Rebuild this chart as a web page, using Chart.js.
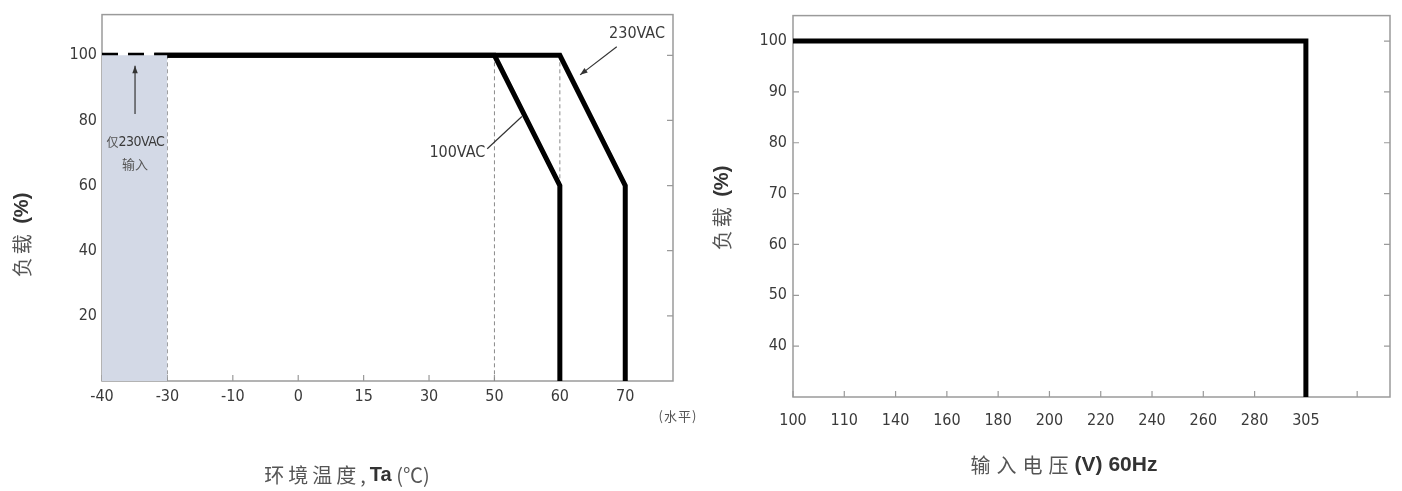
<!DOCTYPE html>
<html>
<head>
<meta charset="utf-8">
<script src="https://cdn.jsdelivr.net/npm/chart.js@4.4.1/dist/chart.umd.min.js"></script>
<style>
    html, body { margin: 0; padding: 0; background: #fff; }
    #wrap { position: relative; width: 1402px; height: 491px; overflow: hidden; }
    .box { position: absolute; top: 0; height: 491px; }
</style>
</head>
<body>
<div id="wrap">
    <div class="box" style="left:0;width:712px"><canvas id="tempChart"></canvas></div>
    <div class="box" style="left:700px;width:702px"><canvas id="voltChart"></canvas></div>
</div>
<script>
// left chart: derating vs ambient temperature
const tempTicks = [-40, -30, -10, 0, 15, 30, 50, 60, 70];
const loadTicksLeft = [20, 40, 60, 80, 100];
const coldStartTemp = [-40, -32];
const coldStartLoad = [100, 100];
const curve100Temp = [-32, 50, 60, 60];
const curve100Load = [100, 100, 60, 0];
const curve230Temp = [-32, 60, 70, 70];
const curve230Load = [100, 100, 60, 0];
const shadeTemp = [-40, -30];
const shadeLoad = [100, 100];
const refLineTemps = [-30, 50, 60];

// right chart: load vs input voltage
const voltTicks = [100, 110, 140, 160, 180, 200, 220, 240, 260, 280, 305, ''];
const loadTicksRight = [40, 50, 60, 70, 80, 90, 100];
const voltCurveV = [100, 305, 305];
const voltCurveLoad = [100, 100, 30];

const NUM = '"Liberation Sans Narrow", "DejaVu Sans Condensed", Arial, sans-serif';
const CJK = '"Noto Sans CJK SC", sans-serif';

// axes are not linear: each tick is spaced evenly, so map values onto tick index
function toPos(v, ticks) {
    for (let i = 0; i < ticks.length - 1; i++) {
        const a = ticks[i], b = ticks[i + 1];
        if (typeof b !== 'number') break;
        if (v >= a && v <= b) return i + (v - a) / (b - a);
    }
    return ticks.indexOf(v);
}

function pts(xs, ys, ticks) {
    return xs.map((x, i) => ({ x: toPos(x, ticks), y: ys[i] }));
}

function drawMixed(ctx, parts, cx, cy, rotate) {
    ctx.save();
    ctx.translate(cx, cy);
    if (rotate) ctx.rotate(-Math.PI / 2);
    let total = 0;
    const widths = parts.map(p => {
        ctx.font = p.font;
        ctx.letterSpacing = (p.spacing || 0) + 'px';
        const w = ctx.measureText(p.text).width;
        total += w;
        return w;
    });
    let x = -total / 2;
    ctx.textBaseline = 'middle';
    ctx.textAlign = 'left';
    parts.forEach((p, i) => {
        ctx.font = p.font;
        ctx.letterSpacing = (p.spacing || 0) + 'px';
        ctx.fillStyle = p.color || '#333';
        ctx.fillText(p.text, x, 0);
        x += widths[i];
    });
    ctx.restore();
}

// frame, inside tick marks and axis titles
function makeFrame(titles, extra) {
    return {
        id: 'frame',
        beforeDatasetsDraw(chart) {
            const { ctx, chartArea: a, scales } = chart;
            ctx.save();
            ctx.strokeStyle = '#9a9a9a';
            ctx.lineWidth = 1.5;
            ctx.strokeRect(a.left, a.top, a.right - a.left, a.bottom - a.top);
            ctx.lineWidth = 1.2;
            ctx.beginPath();
            scales.y.ticks.forEach(t => {
                const y = scales.y.getPixelForValue(t.value);
                ctx.moveTo(a.left, y); ctx.lineTo(a.left + 6, y);
                ctx.moveTo(a.right, y); ctx.lineTo(a.right - 6, y);
            });
            scales.x.ticks.forEach(t => {
                const x = scales.x.getPixelForValue(t.value);
                ctx.moveTo(x, a.bottom); ctx.lineTo(x, a.bottom - 6);
            });
            ctx.stroke();
            ctx.restore();
            if (extra && extra.before) extra.before(chart);
        },
        afterDraw(chart) {
            titles.forEach(t => drawMixed(chart.ctx, t.parts, t.x, t.y, t.rotate));
            if (extra && extra.after) extra.after(chart);
        }
    };
}

function refLines(chart) {
    const { ctx, scales } = chart;
    const X = v => scales.x.getPixelForValue(v);
    const Y = v => scales.y.getPixelForValue(v);
    ctx.save();
    ctx.strokeStyle = '#8a8a8a';
    ctx.lineWidth = 1;
    ctx.setLineDash([4, 3]);
    ctx.beginPath();
    refLineTemps.forEach(t => {
        const x = X(toPos(t, tempTicks));
        ctx.moveTo(x, Y(100)); ctx.lineTo(x, Y(0));
    });
    ctx.stroke();
    ctx.restore();
}

function tempNotes(chart) {
    const { ctx, scales } = chart;
    const X = v => scales.x.getPixelForValue(v);
    const Y = v => scales.y.getPixelForValue(v);
    ctx.save();
    ctx.strokeStyle = '#333';
    ctx.fillStyle = '#333';
    ctx.lineWidth = 1.2;
    const arrow = (x1, y1, x2, y2) => {
        ctx.beginPath(); ctx.moveTo(x1, y1); ctx.lineTo(x2, y2); ctx.stroke();
        const ang = Math.atan2(y2 - y1, x2 - x1);
        ctx.beginPath();
        ctx.moveTo(x2, y2);
        ctx.lineTo(x2 - 8 * Math.cos(ang - 0.35), y2 - 8 * Math.sin(ang - 0.35));
        ctx.lineTo(x2 - 8 * Math.cos(ang + 0.35), y2 - 8 * Math.sin(ang + 0.35));
        ctx.closePath(); ctx.fill();
    };
    arrow(X(0.505), Y(82), X(0.505), Y(96.8));
    ctx.beginPath(); ctx.moveTo(X(5.89), Y(71.3)); ctx.lineTo(X(6.42), Y(81.2)); ctx.stroke();
    arrow(X(7.87), Y(102.6), X(7.31), Y(94));

    drawMixed(ctx, [{ text: '仅', font: '12px ' + CJK, color: '#555' },
                    { text: '230VAC', font: '14px ' + NUM, color: '#3a3a3a', spacing: -0.5 }],
              X(0.51), Y(73.2));
    drawMixed(ctx, [{ text: '输入', font: '13px ' + CJK, color: '#555' }], X(0.505), Y(66.5));
    ctx.fillStyle = '#3a3a3a';
    ctx.textBaseline = 'middle';
    ctx.font = '16px ' + NUM;
    ctx.textAlign = 'right';
    ctx.fillText('100VAC', X(5.86), Y(70.2));
    ctx.textAlign = 'center';
    ctx.fillText('230VAC', X(8.18), Y(106.6));
    drawMixed(ctx, [{ text: '(水平)', font: '13px ' + CJK, color: '#555', spacing: 1 }], 678, 416);
    ctx.restore();
}

function lineSet(data, dash) {
    return {
        data,
        borderColor: '#000',
        borderWidth: 5,
        borderDash: dash || [],
        pointRadius: 0,
        tension: 0,
        fill: false,
        borderCapStyle: 'butt',
        borderJoinStyle: 'miter'
    };
}

function axisX(max, ticks, height, pad) {
    return {
        type: 'linear', min: 0, max,
        grid: { display: false, drawTicks: false },
        border: { display: false },
        afterBuildTicks: s => { s.ticks = ticks.map((t, i) => ({ value: i })); },
        afterFit: s => { s.height = height; },
        ticks: {
            autoSkip: false, maxRotation: 0, padding: pad,
            color: '#3a3a3a', font: { family: NUM, size: 16 },
            callback: v => ticks[v]
        }
    };
}

function axisY(min, max, ticks, width, pad) {
    return {
        type: 'linear', min, max,
        grid: { display: false, drawTicks: false },
        border: { display: false },
        afterBuildTicks: s => { s.ticks = ticks.map(v => ({ value: v })); },
        afterFit: s => { s.width = width; },
        ticks: {
            padding: pad,
            color: '#3a3a3a', font: { family: NUM, size: 16 }
        }
    };
}

function baseOptions(pad, x, y) {
    return {
        responsive: true,
        maintainAspectRatio: false,
        animation: false,
        layout: { padding: pad },
        scales: { x, y },
        plugins: { legend: { display: false }, tooltip: { enabled: false } }
    };
}

function initTempChart() {
    const ctx = document.getElementById('tempChart').getContext('2d');
    const titles = [
        { rotate: true, x: 22, y: 235, parts: [
            { text: '负载 ', font: '20px ' + CJK, color: '#555', spacing: 3 },
            { text: '(%)', font: 'bold 20px "Liberation Sans", Arial', color: '#333' }] },
        { x: 347, y: 475, parts: [
            { text: '环境温度,', font: '20px ' + CJK, color: '#555', spacing: 4 },
            { text: 'Ta', font: 'bold 20px "Liberation Sans", Arial', color: '#333' },
            { text: ' (℃)', font: '20px ' + CJK, color: '#555' }] }
    ];
    new Chart(ctx, {
        type: 'line',
        data: {
            datasets: [
                {
                    data: pts(shadeTemp, shadeLoad, tempTicks),
                    borderWidth: 0, pointRadius: 0,
                    backgroundColor: 'rgb(211,217,230)',
                    fill: 'origin'
                },
                lineSet(pts(coldStartTemp, coldStartLoad, tempTicks), [16, 10]),
                lineSet(pts(curve100Temp, curve100Load, tempTicks)),
                lineSet(pts(curve230Temp, curve230Load, tempTicks))
            ]
        },
        options: baseOptions({ top: 12, right: 39, left: 0, bottom: 0 },
            axisX(8.73, tempTicks, 110, 6),
            axisY(0, 112.5, loadTicksLeft, 102, 5)),
        plugins: [makeFrame(titles, { before: refLines, after: tempNotes })]
    });
}

function initVoltChart() {
    const ctx = document.getElementById('voltChart').getContext('2d');
    const titles = [
        { rotate: true, x: 22, y: 208, parts: [
            { text: '负载 ', font: '20px ' + CJK, color: '#555', spacing: 3 },
            { text: '(%)', font: 'bold 20px "Liberation Sans", Arial', color: '#333' }] },
        { x: 364, y: 465, parts: [
            { text: '输入电压', font: '20px ' + CJK, color: '#555', spacing: 6 },
            { text: '(V) 60Hz', font: 'bold 21px "Liberation Sans", Arial', color: '#333' }] }
    ];
    new Chart(ctx, {
        type: 'line',
        data: {
            datasets: [lineSet(pts(voltCurveV, voltCurveLoad, voltTicks))]
        },
        options: baseOptions({ top: 13, right: 12, left: 0, bottom: 0 },
            axisX(11.64, voltTicks, 94, 14),
            axisY(30, 105, loadTicksRight, 93, 6)),
        plugins: [makeFrame(titles)]
    });
}

initTempChart();
initVoltChart();
</script>
</body>
</html>
